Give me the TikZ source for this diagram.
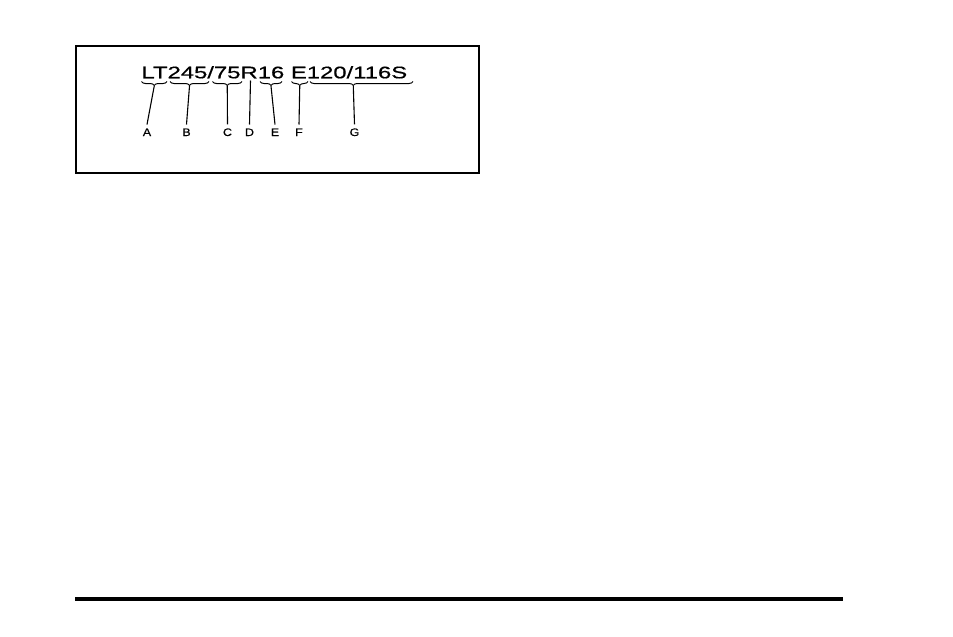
\documentclass[tikz,border=0pt]{standalone}
\usepackage{fontspec}
\setmainfont{Liberation Sans}
\newfontfamily\codefont[FakeStretch=1.42,FakeBold=0.6]{Liberation Sans}
\newfontfamily\labfont[FakeStretch=1.15,FakeBold=0.4]{Liberation Sans}
\usetikzlibrary{decorations.pathreplacing}
\tikzset{
  codetext/.style={inner sep=0pt, outer sep=0pt, anchor=base west, font=\codefont\fontsize{16.8pt}{18pt}\selectfont},
  partlabel/.style={inner sep=0pt, outer sep=4pt, anchor=base, font=\labfont\fontsize{10.9pt}{12pt}\selectfont},
  underbrace/.style={line width=1pt, decorate, decoration={brace, mirror, amplitude=4pt}},
  leader/.style={line width=1.1pt},
  frame/.style={line width=2pt},
  rule/.style={line width=3.5pt}
}
\begin{document}
\begin{tikzpicture}[x=1pt, y=-1pt]
\useasboundingbox (0,0) rectangle (953,637);
% frame
\draw[frame] (76,46) rectangle (479,173);
% tire code
\node[codetext] (code) at (141.5,78.3) {LT245/75R16 E120/116S};
% braces
\draw[underbrace] (141.5,81.5) -- (167,81.5);
\draw[underbrace] (170,81.5) -- (209,81.5);
\draw[underbrace] (212.5,81.5) -- (242,81.5);
\draw[underbrace] (260,81.5) -- (282,81.5);
\draw[underbrace] (291.5,81.5) -- (308,81.5);
\draw[underbrace, decoration={aspect=0.42}] (310,81.5) -- (413,81.5);
% brace tips
\coordinate (tA) at (154.25,86);
\coordinate (tB) at (189.5,86);
\coordinate (tC) at (227.25,86);
\coordinate (tD) at (250.5,80.5);
\coordinate (tE) at (271,86);
\coordinate (tF) at (299.75,86);
\coordinate (tG) at (353.3,86);
% labels
\node[partlabel] (lA) at (147,136) {A};
\node[partlabel] (lB) at (186.5,136) {B};
\node[partlabel] (lC) at (227.5,136) {C};
\node[partlabel] (lD) at (249.5,136) {D};
\node[partlabel] (lE) at (275,136) {E};
\node[partlabel] (lF) at (299,136) {F};
\node[partlabel] (lG) at (354.5,136) {G};
% leaders
\draw[leader] (tA) -- (lA.north);
\draw[leader] (tB) -- (lB.north);
\draw[leader] (tC) -- (lC.north);
\draw[leader] (tD) -- (lD.north);
\draw[leader] (tE) -- (lE.north);
\draw[leader] (tF) -- (lF.north);
\draw[leader] (tG) -- (lG.north);
% bottom rule
\coordinate (r1) at (75,599);
\coordinate (r2) at (843,599);
\draw[rule] (r1) -- (r2);
\end{tikzpicture}
\end{document}
